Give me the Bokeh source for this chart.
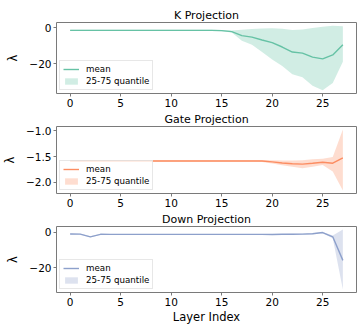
from bokeh.plotting import figure
from bokeh.layouts import column
from bokeh.models import Range1d, Legend, LegendItem, CustomJSTickFormatter, FixedTicker
from bokeh.embed import file_html
from bokeh.resources import INLINE

layers = list(range(28))
x_ticks = [0, 5, 10, 15, 20, 25]

k_mean = [-1.6, -1.6, -1.6, -1.6, -1.6, -1.6, -1.6, -1.6, -1.6, -1.6, -1.6, -1.6, -1.6, -1.6,
          -1.6, -1.7, -2.3, -4.5, -5.3, -6.9, -8.4, -10.8, -13.6, -14.2, -16.4, -17.4, -15.2, -9.5]
k_lo = [-1.9, -1.9, -1.9, -1.9, -1.9, -1.9, -1.9, -1.9, -1.9, -1.9, -1.9, -1.9, -1.9, -1.9,
        -1.9, -2.1, -2.7, -7.3, -9.5, -13.6, -17.8, -21.4, -25.9, -27.6, -32.3, -34.8, -30.8, -19.0]
k_hi = [-1.3, -1.3, -1.3, -1.3, -1.3, -1.3, -1.3, -1.3, -1.3, -1.3, -1.3, -1.3, -1.3, -1.3,
        -1.3, -1.4, -1.6, -1.2, -0.8, -0.6, -0.4, -0.7, -1.4, -1.1, -0.2, 0.5, 1.0, 0.7]

g_mean = [-1.586, -1.586, -1.586, -1.586, -1.586, -1.586, -1.586, -1.586, -1.586, -1.586,
          -1.586, -1.586, -1.586, -1.586, -1.586, -1.586, -1.586, -1.586, -1.586, -1.588,
          -1.605, -1.625, -1.64, -1.647, -1.63, -1.61, -1.63, -1.525]
g_lo = [-1.603, -1.603, -1.603, -1.603, -1.603, -1.603, -1.603, -1.603, -1.603, -1.603,
        -1.603, -1.603, -1.603, -1.603, -1.603, -1.603, -1.603, -1.603, -1.603, -1.608,
        -1.635, -1.67, -1.70, -1.727, -1.70, -1.666, -1.79, -2.16]
g_hi = [-1.568, -1.568, -1.568, -1.568, -1.568, -1.568, -1.568, -1.568, -1.568, -1.568,
        -1.568, -1.568, -1.568, -1.568, -1.568, -1.568, -1.568, -1.568, -1.568, -1.569,
        -1.572, -1.576, -1.578, -1.57, -1.555, -1.545, -1.507, -0.975]

d_mean = [-1.05, -1.1, -2.6, -1.2, -1.25, -1.25, -1.25, -1.25, -1.25, -1.25, -1.25, -1.25,
          -1.25, -1.25, -1.25, -1.25, -1.25, -1.25, -1.25, -1.25, -1.3, -1.2, -1.15, -1.1,
          -0.9, -0.2, -2.6, -15.8]
d_lo = [-1.3, -1.35, -2.9, -1.45, -1.5, -1.5, -1.5, -1.5, -1.5, -1.5, -1.5, -1.5,
        -1.5, -1.5, -1.5, -1.5, -1.5, -1.5, -1.5, -1.5, -1.55, -1.45, -1.4, -1.35,
        -1.15, -0.6, -3.4, -32.1]
d_hi = [-0.8, -0.85, -2.3, -0.95, -1.0, -1.0, -1.0, -1.0, -1.0, -1.0, -1.0, -1.0,
        -1.0, -1.0, -1.0, -1.0, -1.0, -1.0, -1.0, -1.0, -1.05, -0.95, -0.9, -0.85,
        -0.65, 0.1, -1.8, 1.5]

k_yticks = [0, -20]
g_yticks = [-1.0, -1.5, -2.0]
d_yticks = [0, -20]

FONT = "DejaVu Sans"
SPINE = "#7a7a7a"


def panel(title, mean, lo, hi, color, yticks, decimals, height, top, bottom, xlabel=None):
    ymin, ymax = min(lo), max(hi)
    pad = 0.05 * (ymax - ymin)
    p = figure(width=357, height=height, output_backend="svg", toolbar_location=None,
               x_range=Range1d(-1.35, 28.35), y_range=Range1d(ymin - pad, ymax + pad),
               min_border_left=49, min_border_right=1, min_border_top=top,
               min_border_bottom=bottom)
    p.grid.visible = False
    p.outline_line_color = SPINE
    p.outline_line_width = 1
    p.background_fill_color = "white"
    p.border_fill_color = "white"

    p.title.text = title
    p.title.align = "center"
    p.title.text_font = FONT
    p.title.text_font_style = "normal"
    p.title.text_font_size = "11px"
    p.title.text_color = "#000000"
    p.title.standoff = 2

    band = p.varea(x=layers, y1=lo, y2=hi, fill_color=color, fill_alpha=0.3)
    line = p.line(x=layers, y=mean, line_color=color, line_width=1.4)

    p.xaxis.ticker = FixedTicker(ticks=x_ticks)
    p.yaxis.ticker = FixedTicker(ticks=yticks)
    code = ("var s = Math.abs(tick).toFixed(%d); return (tick < -1e-9 ? '\\u2212' : '') + s;"
            % decimals)
    p.yaxis.formatter = CustomJSTickFormatter(code=code)
    for ax in p.axis:
        ax.axis_line_color = None
        ax.major_tick_in = 0
        ax.major_tick_out = 3
        ax.major_tick_line_color = SPINE
        ax.minor_tick_line_color = None
        ax.major_label_text_font = FONT
        ax.major_label_text_font_size = "10.5px"
        ax.major_label_text_color = "#000000"
        ax.major_label_standoff = 2
        ax.axis_label_text_font = FONT
        ax.axis_label_text_font_size = "11.5px"
        ax.axis_label_text_font_style = "normal"
        ax.axis_label_text_color = "#000000"
    p.yaxis.axis_label = "λ"
    p.yaxis.axis_label_standoff = 6
    if xlabel:
        p.xaxis.axis_label = xlabel
        p.xaxis.axis_label_standoff = 1

    legend = Legend(items=[LegendItem(label="mean", renderers=[line]),
                           LegendItem(label="25-75 quantile", renderers=[band])],
                    location="bottom_left")
    legend.margin = 3
    legend.padding = 3
    legend.spacing = 2
    legend.glyph_width = 16
    legend.glyph_height = 8
    legend.label_height = 9
    legend.label_standoff = 7
    legend.label_text_font = FONT
    legend.label_text_font_size = "8.7px"
    legend.label_text_color = "#000000"
    legend.border_line_color = "#d0d0d0"
    legend.border_line_width = 1
    legend.background_fill_alpha = 0.8
    p.add_layout(legend)
    return p


p1 = panel("K Projection", k_mean, k_lo, k_hi, "#66c2a5", k_yticks, 0, 109, 22, 16)
p2 = panel("Gate Projection", g_mean, g_lo, g_hi, "#fc8d62", g_yticks, 1, 100, 14, 16)
p3 = panel("Down Projection", d_mean, d_lo, d_hi, "#8da0cb", d_yticks, 0, 117, 14, 33,
           xlabel="Layer Index")

layout = column(p1, p2, p3, spacing=0)
open("out.html", "w").write(file_html(layout, INLINE))
